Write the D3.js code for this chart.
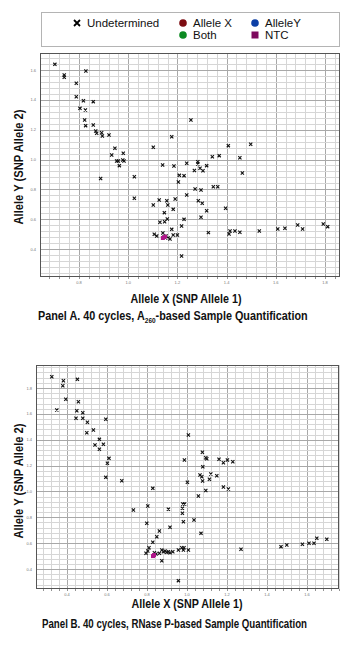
<!DOCTYPE html>
<html>
<head>
<meta charset="utf-8">
<script src="https://cdn.jsdelivr.net/npm/d3@7"></script>
<style>
  html, body { margin: 0; padding: 0; background: #fff; }
  svg { display: block; }
</style>
</head>
<body>
<svg id="chart" width="355" height="654"></svg>
<script>
// ---------------- DATA ----------------
const legendLabels = ["Undetermined", "Allele X", "AlleleY", "Both", "NTC"];
const legendColors = ["#000000", "#7d0d12", "#0d3fa6", "#0c8a22", "#7e0a5e"];

// Panel A tick labels
const aXTicks = [0.8, 1.0, 1.2, 1.4, 1.6, 1.8];
const aYTicks = [0.4, 0.6, 0.8, 1.0, 1.2, 1.4, 1.6];
// Panel B tick labels
const bXTicks = [0.4, 0.6, 0.8, 1.0, 1.2, 1.4, 1.6];
const bYTicks = [0.4, 0.6, 0.8, 1.0, 1.2, 1.4, 1.6, 1.8];

// Panel A: Undetermined calls [Allele X, Allele Y]
const aUndetermined = [
  [0.702,1.638],[0.740,1.566],[0.740,1.551],[0.828,1.593],[0.789,1.511],[0.789,1.421],
  [0.818,1.394],[0.858,1.388],[0.804,1.343],[0.826,1.332],[0.823,1.265],[0.827,1.227],
  [0.858,1.231],[0.868,1.191],[0.872,1.176],[0.892,1.180],[0.895,1.158],[0.922,1.164],
  [0.946,1.075],[0.933,1.030],[0.980,1.042],[0.953,0.990],[0.960,0.990],[0.978,0.997],
  [0.983,0.990],[0.964,0.959],[1.102,1.082],[1.177,1.153],[1.140,0.963],[1.186,0.957],
  [0.888,0.873],[1.025,0.885],[1.255,1.265],[1.407,1.093],[1.498,1.102],[1.342,1.019],
  [1.370,1.026],[1.454,1.012],[1.238,0.975],[1.283,0.985],[1.283,0.970],[1.319,0.959],
  [1.269,0.926],[1.292,0.941],[1.304,0.925],[1.464,0.910],[1.208,0.894],[1.227,0.892],
  [1.025,0.740],[1.102,0.695],[1.126,0.729],[1.157,0.724],[1.191,0.735],[1.161,0.695],
  [1.183,0.666],[1.147,0.644],[1.129,0.579],[1.148,0.583],[1.159,0.601],[1.177,0.532],
  [1.106,0.499],[1.116,0.487],[1.141,0.508],[1.146,0.481],[1.154,0.487],[1.162,0.474],
  [1.170,0.467],[1.183,0.494],[1.204,0.849],[1.272,0.802],[1.296,0.796],[1.346,0.818],
  [1.364,0.818],[1.238,0.762],[1.285,0.724],[1.301,0.707],[1.319,0.657],[1.396,0.673],
  [1.227,0.599],[1.296,0.613],[1.217,0.554],[1.200,0.494],[1.326,0.510],[1.410,0.501],
  [1.414,0.521],[1.434,0.521],[1.454,0.512],[1.533,0.521],[1.608,0.534],[1.637,0.539],
  [1.689,0.561],[1.709,0.534],[1.793,0.568],[1.811,0.550],[1.217,0.353]
];
const aNTC = [[1.150,0.483],[1.141,0.474]];

// Panel B: Undetermined calls [Allele X, Allele Y]
const bUndetermined = [
  [0.324,1.887],[0.382,1.856],[0.379,1.818],[0.452,1.867],[0.394,1.713],[0.349,1.630],
  [0.457,1.694],[0.449,1.624],[0.479,1.609],[0.445,1.566],[0.479,1.566],[0.502,1.535],
  [0.594,1.558],[0.499,1.454],[0.532,1.475],[0.562,1.403],[0.540,1.359],[0.582,1.365],
  [0.562,1.326],[0.610,1.256],[0.602,1.218],[0.594,1.109],[0.674,1.083],[0.829,1.024],
  [1.007,1.437],[1.077,1.303],[0.987,1.243],[1.094,1.261],[1.099,1.253],[1.160,1.249],
  [1.182,1.222],[1.202,1.243],[1.229,1.230],[1.079,1.191],[1.065,1.127],[1.074,1.114],
  [1.119,1.135],[1.149,1.122],[1.112,1.094],[1.078,1.081],[1.002,1.071],[1.182,1.034],
  [1.207,1.019],[1.094,1.007],[1.057,0.965],[0.979,0.903],[0.988,0.903],[0.977,0.870],
  [0.977,0.831],[1.035,0.779],[0.982,0.766],[1.070,0.676],[0.732,0.856],[0.804,0.887],
  [0.907,0.862],[0.799,0.754],[0.915,0.723],[0.862,0.694],[0.849,0.650],[0.829,0.607],
  [0.810,0.565],[0.804,0.539],[0.795,0.522],[0.837,0.526],[0.845,0.516],[0.862,0.522],
  [0.874,0.547],[0.882,0.534],[0.890,0.539],[0.899,0.529],[0.907,0.534],[0.915,0.526],
  [0.929,0.534],[0.874,0.464],[0.957,0.547],[0.974,0.565],[0.985,0.565],[0.982,0.547],
  [1.007,0.547],[1.270,0.553],[1.470,0.573],[1.499,0.586],[1.577,0.591],[1.610,0.599],
  [1.635,0.599],[1.649,0.638],[1.699,0.630],[0.957,0.310]
];
const bNTC = [[0.835,0.508],[0.830,0.500]];

// ---------------- DRAW ----------------
const svg = d3.select("#chart");
const narrow = "'Liberation Sans Narrow','Liberation Sans',Arial,sans-serif";
const regular = "'Liberation Sans',Arial,Helvetica,sans-serif";

// Legend
const lg = svg.append("g");
lg.append("rect").attr("x", 41.5).attr("y", 12.5).attr("width", 298).attr("height", 34)
  .attr("fill", "#fff").attr("stroke", "#b4b4b4").attr("stroke-width", 1);
const legendPos = [[77, 23], [183, 23], [255, 23], [183, 35], [255, 35]];
legendLabels.forEach((lab, i) => {
  const [lx, ly] = legendPos[i];
  if (i === 0) {
    lg.append("path").attr("d", `M${lx-3},${ly-3}L${lx+3},${ly+3}M${lx+3},${ly-3}L${lx-3},${ly+3}`)
      .attr("stroke", "#000").attr("stroke-width", 1.8);
  } else if (i === 4) {
    lg.append("rect").attr("x", lx - 3.5).attr("y", ly - 3.5).attr("width", 7).attr("height", 7)
      .attr("fill", legendColors[i]);
  } else {
    lg.append("circle").attr("cx", lx).attr("cy", ly).attr("r", 3.8).attr("fill", legendColors[i]);
  }
  lg.append("text").attr("x", lx + 10).attr("y", ly + 4)
    .attr("font-family", regular).attr("font-size", 11.5).attr("fill", "#111")
    .text(lab);
});

// Draw a condensed title: natural text measured, then squeezed horizontally to width w
function condensedText(parent, x, y, rotate, anchor, size, w, parts) {
  const g = parent.append("g");
  const t = g.append("text").attr("font-family", narrow).attr("font-weight", "bold")
    .attr("font-size", size).attr("fill", "#111").attr("text-anchor", anchor);
  parts.forEach(p => {
    const s = t.append("tspan").text(p.t);
    if (p.sub) s.attr("font-size", size * 0.6).attr("dy", size * 0.25);
    if (p.after) s.attr("dy", -size * 0.25);
  });
  const len = t.node().getComputedTextLength();
  const sx = len > 0 ? w / len : 1;
  g.attr("transform", `translate(${x},${y}) rotate(${rotate}) scale(${sx},1)`);
  return g;
}

function drawPanel(cfg) {
  const g = svg.append("g");
  const x = d3.scaleLinear().domain(cfg.xDomain).range([cfg.left, cfg.right]);
  const y = d3.scaleLinear().domain(cfg.yDomain).range([cfg.bottom, cfg.top]);
  const xStep = (cfg.xTicks[1] - cfg.xTicks[0]) / 5;
  const yStep = (cfg.yTicks[1] - cfg.yTicks[0]) / 5;
  const base = cfg.xTicks[0], baseY = cfg.yTicks[0];

  const grid = g.append("g");
  for (let k = Math.ceil((cfg.xDomain[0] - base) / xStep); base + k * xStep <= cfg.xDomain[1]; k++) {
    const v = base + k * xStep;
    const major = ((k % 5) + 5) % 5 === 0;
    const px = Math.round(x(v)) + 0.5;
    grid.append("line").attr("x1", px).attr("x2", px).attr("y1", cfg.top).attr("y2", cfg.bottom)
      .attr("stroke", major ? "#a8a8a8" : "#d6d6d6").attr("stroke-width", 1);
    grid.append("line").attr("x1", px).attr("x2", px).attr("y1", cfg.bottom).attr("y2", cfg.bottom + 2)
      .attr("stroke", "#777").attr("stroke-width", 0.8);
  }
  for (let k = Math.ceil((cfg.yDomain[0] - baseY) / yStep); baseY + k * yStep <= cfg.yDomain[1]; k++) {
    const v = baseY + k * yStep;
    const major = ((k % 5) + 5) % 5 === 0;
    const py = Math.round(y(v)) + 0.5;
    grid.append("line").attr("x1", cfg.left).attr("x2", cfg.right).attr("y1", py).attr("y2", py)
      .attr("stroke", major ? "#a8a8a8" : "#d6d6d6").attr("stroke-width", 1);
  }

  g.append("rect").attr("x", cfg.left + 0.5).attr("y", cfg.top + 0.5)
    .attr("width", cfg.right - cfg.left - 1).attr("height", cfg.bottom - cfg.top - 1)
    .attr("fill", "none").attr("stroke", "#555").attr("stroke-width", 1);

  const fmt = d3.format(".1f");
  g.selectAll(".xt").data(cfg.xTicks).join("text")
    .attr("x", d => x(d)).attr("y", cfg.bottom + 7)
    .attr("text-anchor", "middle").attr("font-family", regular).attr("font-size", 4)
    .attr("fill", "#777").text(fmt);
  g.selectAll(".yt").data(cfg.yTicks).join("text")
    .attr("x", cfg.left - 4).attr("y", d => y(d) + 1.5)
    .attr("text-anchor", "end").attr("font-family", regular).attr("font-size", 4)
    .attr("fill", "#777").text(fmt);

  const s = 1.6;
  g.selectAll(".pt").data(cfg.points).join("path")
    .attr("d", d => {
      const px = x(d[0]), py = y(d[1]);
      return `M${px-s},${py-s}L${px+s},${py+s}M${px+s},${py-s}L${px-s},${py+s}`;
    })
    .attr("stroke", "#111").attr("stroke-width", 1.1).attr("fill", "none");
  g.selectAll(".ntc").data(cfg.ntc).join("rect")
    .attr("x", d => x(d[0]) - 2).attr("y", d => y(d[1]) - 2)
    .attr("width", 4).attr("height", 4).attr("fill", "#b0168a");

  condensedText(g, cfg.xTitle[0], cfg.xTitle[1], 0, "middle", 13.5, 111,
    [{t: "Allele X (SNP Allele 1)"}]);
  condensedText(g, cfg.yTitle[0], cfg.yTitle[1], -90, "middle", 13.5, 115,
    [{t: "Allele Y (SNP Allele 2)"}]);
  condensedText(g, cfg.caption[0], cfg.caption[1], 0, "start", 13.5, cfg.captionWidth,
    cfg.captionParts);
}

drawPanel({
  left: 40, right: 340, top: 53, bottom: 277,
  xDomain: [0.6415, 1.861], yDomain: [0.2126, 1.714],
  xTicks: aXTicks, yTicks: aYTicks,
  points: aUndetermined, ntc: aNTC,
  xTitle: [186, 303], yTitle: [23, 167],
  caption: [38, 320], captionWidth: 270,
  captionParts: [{t: "Panel A. 40 cycles, A"}, {t: "260", sub: true}, {t: "-based Sample Quantification", after: true}]
});

drawPanel({
  left: 36, right: 339, top: 365, bottom: 589,
  xDomain: [0.245, 1.76], yDomain: [0.2455, 1.978],
  xTicks: bXTicks, yTicks: bYTicks,
  points: bUndetermined, ntc: bNTC,
  xTitle: [187, 608], yTitle: [23, 481],
  caption: [42, 628], captionWidth: 265,
  captionParts: [{t: "Panel B. 40 cycles, RNase P-based Sample Quantification"}]
});
</script>
</body>
</html>
